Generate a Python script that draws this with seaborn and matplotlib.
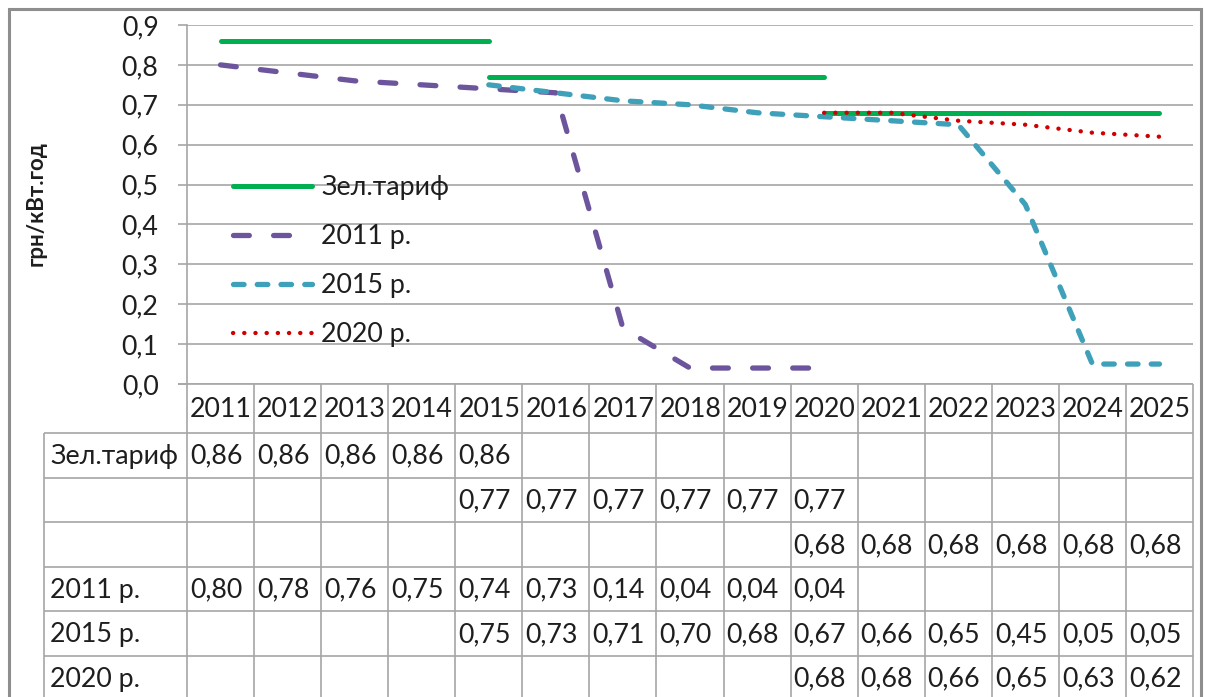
import matplotlib
matplotlib.use("Agg")
import matplotlib.pyplot as plt
from matplotlib.patches import Rectangle
from matplotlib.ticker import FuncFormatter
import pandas as pd
import seaborn as sns

# ---- data -------------------------------------------------------------
years = [2011, 2012, 2013, 2014, 2015, 2016, 2017, 2018,
         2019, 2020, 2021, 2022, 2023, 2024, 2025]

tariff_a_years = [2011, 2012, 2013, 2014, 2015]
tariff_a = [0.86, 0.86, 0.86, 0.86, 0.86]
tariff_b_years = [2015, 2016, 2017, 2018, 2019, 2020]
tariff_b = [0.77, 0.77, 0.77, 0.77, 0.77, 0.77]
tariff_c_years = [2020, 2021, 2022, 2023, 2024, 2025]
tariff_c = [0.68, 0.68, 0.68, 0.68, 0.68, 0.68]

cost_2011_years = [2011, 2012, 2013, 2014, 2015, 2016, 2017, 2018, 2019, 2020]
cost_2011 = [0.80, 0.78, 0.76, 0.75, 0.74, 0.73, 0.14, 0.04, 0.04, 0.04]
cost_2015_years = [2015, 2016, 2017, 2018, 2019, 2020, 2021, 2022, 2023, 2024, 2025]
cost_2015 = [0.75, 0.73, 0.71, 0.70, 0.68, 0.67, 0.66, 0.65, 0.45, 0.05, 0.05]
cost_2020_years = [2020, 2021, 2022, 2023, 2024, 2025]
cost_2020 = [0.68, 0.68, 0.66, 0.65, 0.63, 0.62]

row_labels = ["Зел.тариф", "", "", "2011 р.", "2015 р.", "2020 р."]
y_ticks = [0.0, 0.1, 0.2, 0.3, 0.4, 0.5, 0.6, 0.7, 0.8, 0.9]
y_label = "грн/кВт.год"

GREEN = "#00B050"
PURPLE = "#6C559D"
TEAL = "#3FA0BA"
RED = "#D00000"
GRID = "#A6A6A6"
TEXT = "#1E1E1E"

# (row label, years, values, colour, width pt, dash pattern or None)
series = [
    (row_labels[0], tariff_a_years, tariff_a, GREEN, 3.6, None),
    (row_labels[1], tariff_b_years, tariff_b, GREEN, 3.6, None),
    (row_labels[2], tariff_c_years, tariff_c, GREEN, 3.6, None),
    (row_labels[3], cost_2011_years, cost_2011, PURPLE, 3.8, (3.0, 4.6)),
    (row_labels[4], cost_2015_years, cost_2015, TEAL, 3.8, (2.0, 2.5)),
    (row_labels[5], cost_2020_years, cost_2020, RED, 3.1, (0.05, 2.55)),
]

# ---- figure -----------------------------------------------------------
sns.set_theme(style="white")
plt.rcParams["font.family"] = ["Lato", "Noto Sans", "DejaVu Sans"]
FS = 19.3

W, H = 1209, 697
fig = plt.figure(figsize=(W / 100, H / 100), dpi=100)
fig.patch.set_facecolor("white")

plot_left, plot_right, plot_top, plot_bottom = 187, 1193, 25, 384
ax = fig.add_axes([plot_left / W, 1 - plot_bottom / H,
                   (plot_right - plot_left) / W, (plot_bottom - plot_top) / H])

legend_lines = []
for label, ys, vals, color, lw, dashes in series:
    df = pd.DataFrame({"pos": [years.index(y) for y in ys], "value": vals})
    sns.lineplot(data=df, x="pos", y="value", ax=ax, color=color,
                 linewidth=lw, legend=False, sort=True)
    line = ax.get_lines()[-1]
    line.set_solid_capstyle("round")
    if dashes is not None:
        line.set_dashes(dashes)
        line.set_dash_capstyle("round")
    if label and label not in [l.get_label() for l in legend_lines]:
        line.set_label(label)
        legend_lines.append(line)

ax.set_xlim(-0.5, len(years) - 0.5)
ax.set_ylim(0, 0.9)
ax.set_yticks(y_ticks)
ax.yaxis.set_major_formatter(FuncFormatter(lambda v, _: f"{v:.1f}".replace(".", ",")))
ax.set_xticks([])
ax.set_xlabel("")
ax.set_ylabel("")
ax.grid(axis="y", color=GRID, linewidth=1.2)
ax.grid(axis="x", visible=False)
for side in ["top", "right", "bottom"]:
    ax.spines[side].set_visible(False)
ax.spines["left"].set_color(GRID)
ax.spines["left"].set_linewidth(1.2)
ax.tick_params(axis="y", left=True, length=6.5, width=1.2, color=GRID,
               pad=14, labelsize=FS, labelcolor=TEXT)
ax.set_facecolor("none")

leg = ax.legend(handles=legend_lines, labels=[l.get_label() for l in legend_lines],
                loc="upper left", bbox_to_anchor=(233 / W, 1 - 175 / H),
                bbox_transform=fig.transFigure, frameon=False, fontsize=FS,
                handlelength=2.95, handletextpad=0.35, labelspacing=0.9,
                borderpad=0, borderaxespad=0)
for t in leg.get_texts():
    t.set_color(TEXT)

fig.text(36 / W, 1 - 204 / H, y_label, rotation=90, ha="center", va="center",
         fontsize=16, fontweight="bold", color=TEXT)

# ---- data table under the plot ----------------------------------------
tab = fig.add_axes([0, 0, 1, 1], zorder=-1)
tab.set_xlim(0, W)
tab.set_ylim(H, 0)
tab.axis("off")

x_edges = [ax.transData.transform((i - 0.5, 0))[0] for i in range(len(years) + 1)]
header_top = plot_bottom
header_bottom = 433
row_h = 44.6
label_left = 44
row_edges = [header_bottom + k * row_h for k in range(len(row_labels) + 1)]
table_bottom = row_edges[-1]

lkw = dict(color=GRID, linewidth=1.2, solid_capstyle="butt")
tab.plot([x_edges[0] - 9, x_edges[-1]], [header_top, header_top], **lkw)
for y in row_edges:
    tab.plot([label_left, x_edges[-1]], [y, y], **lkw)
for x in x_edges:
    tab.plot([x, x], [header_top, table_bottom], **lkw)
tab.plot([label_left, label_left], [header_bottom, table_bottom], **lkw)

for i, yr in enumerate(years):
    tab.text(x_edges[i] + 3, (header_top + header_bottom) / 2 + 1, str(yr),
             ha="left", va="center", fontsize=FS, color=TEXT)

for r, (label, ys, vals, *_rest) in enumerate(series):
    yc = (row_edges[r] + row_edges[r + 1]) / 2 + 1
    tab.text(label_left + 6, yc, label, ha="left", va="center",
             fontsize=FS, color=TEXT)
    for yr, v in zip(ys, vals):
        i = years.index(yr)
        tab.text(x_edges[i] + 3, yc, f"{v:.2f}".replace(".", ","),
                 ha="left", va="center", fontsize=FS, color=TEXT)

# outer chart frame
fig.add_artist(Rectangle((9 / W, -0.05), (1201 - 9) / W, 1.05 - 9 / H,
                         transform=fig.transFigure, fill=False,
                         edgecolor="#8E8E8E", linewidth=2.2))

fig.savefig("out.png", dpi=100, facecolor="white")
